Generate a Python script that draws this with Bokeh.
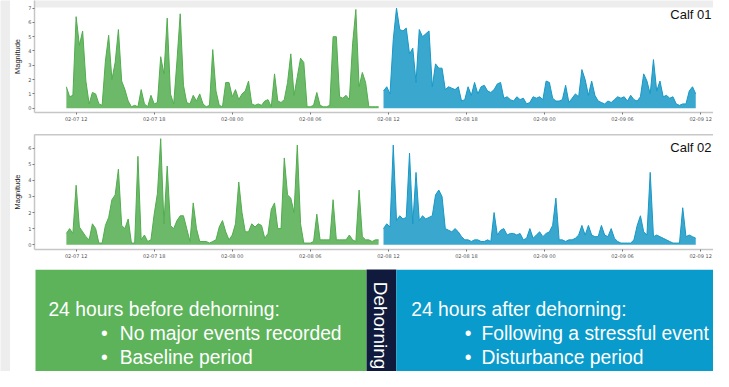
import math
from bokeh.plotting import figure
from bokeh.models import Range1d, FixedTicker, LinearAxis, Label
from bokeh.layouts import column, row
from bokeh.embed import file_html
from bokeh.resources import INLINE
from bokeh.core.properties import value

# ---------------- data ----------------
TICK_HOURS = [12, 18, 24, 30, 36, 42, 48, 54, 60]          # hours since 02-07 00:00
TICK_LABELS = ["02-07 12", "02-07 18", "02-08 00", "02-08 06", "02-08 12",
               "02-08 18", "02-09 00", "02-09 06", "02-09 12"]
BIN_HOURS = 0.25          # 15-minute bins
BEFORE_START = 11.25      # first bin centre, hours
AFTER_START = 35.625

CALF01_BEFORE = [1.5, 0.8, 0.9, 6.4, 4.4, 5.4, 1.9, 0.3, 1.1, 1.0,
                 0.3, 0.2, 3.3, 5.1, 2.0, 3.2, 5.5, 1.9, 1.3, 0.5,
                 0.1, 0.2, 0.1, 1.3, 0.3, 0.1, 0.9, 0.3, 0.4, 3.6,
                 2.4, 6.3, 1.0, 0.3, 3.3, 6.6, 1.6, 0.4, 0.3, 0.9,
                 0.5, 1.0, 0.3, 0.1, 0.2, 4.1, 1.2, 0.2, 0.1, 1.8,
                 1.8, 0.8, 1.3, 0.6, 1.0, 1.2, 1.9, 0.3, 0.2, 0.3,
                 0.2, 0.5, 0.6, 0.1, 2.4, 0.5, 0.4, 0.6, 1.8, 3.8,
                 0.9, 2.2, 3.5, 3.2, 0.1, 0.1, 0.2, 1.1, 0.2, 0.1,
                 0.1, 0.2, 5.0, 5.0, 0.8, 0.7, 0.9, 0.6, 4.5, 6.9,
                 1.5, 2.5, 1.8, 0.1, 0.1, 0.1, 0.1]
CALF01_AFTER = [1.2, 1.5, 1.0, 4.8, 7.0, 5.5, 5.4, 5.6, 3.8, 4.2,
                1.8, 5.5, 5.0, 5.2, 5.4, 1.5, 3.1, 2.8, 2.8, 1.3,
                1.5, 1.4, 1.3, 1.5, 0.5, 0.6, 1.5, 0.9, 1.8, 1.0,
                1.5, 1.6, 1.2, 1.1, 1.3, 1.7, 1.8, 0.7, 0.8, 0.6,
                0.5, 0.8, 0.6, 0.7, 0.3, 0.4, 0.8, 0.7, 0.8, 0.6,
                1.9, 1.8, 0.7, 0.5, 0.5, 0.6, 1.6, 0.4, 0.7, 1.0,
                0.8, 2.7, 2.0, 0.9, 1.9, 0.9, 0.5, 0.4, 0.3, 0.5,
                0.4, 0.6, 0.8, 0.7, 0.8, 0.5, 0.9, 0.6, 0.5, 0.8,
                2.4, 1.9, 1.0, 3.4, 1.2, 1.9, 0.8, 0.9, 0.7, 0.8,
                0.3, 0.2, 0.3, 0.3, 1.2, 1.5, 1.0]
CALF02_BEFORE = [0.7, 1.0, 0.7, 3.7, 1.1, 0.8, 0.5, 0.3, 1.3, 1.0,
                 0.1, 0.1, 1.2, 1.7, 2.8, 3.1, 4.7, 1.2, 1.0, 1.6,
                 0.1, 0.1, 5.5, 0.3, 0.6, 0.2, 0.3, 1.9, 3.2, 6.6,
                 1.3, 4.9, 1.2, 1.0, 1.5, 1.8, 1.8, 1.0, 0.2, 2.6,
                 1.0, 0.2, 0.2, 0.2, 0.1, 0.2, 0.3, 1.1, 1.5, 0.8,
                 0.3, 0.6, 1.3, 3.9, 2.0, 0.8, 0.8, 1.3, 1.1, 1.3,
                 1.2, 0.4, 0.7, 2.2, 2.6, 1.0, 1.0, 5.4, 3.1, 2.9,
                 2.0, 6.2, 1.3, 0.1, 0.1, 0.1, 0.2, 1.9, 0.3, 0.3,
                 0.3, 0.3, 2.8, 0.3, 0.3, 0.3, 0.3, 0.6, 0.3, 0.2,
                 3.4, 0.5, 0.3, 0.3, 0.2, 0.3, 0.3]
CALF02_AFTER = [1.0, 1.3, 1.1, 6.2, 1.5, 1.8, 1.6, 1.7, 5.7, 1.3,
                4.5, 1.5, 1.8, 1.6, 1.7, 1.8, 3.1, 3.4, 3.0, 1.0,
                0.9, 0.8, 1.0, 0.8, 0.5, 0.3, 0.3, 0.2, 0.3, 0.3,
                0.2, 0.2, 0.3, 0.2, 2.0, 0.6, 0.9, 1.0, 0.6, 0.7,
                0.7, 0.6, 0.7, 0.3, 0.4, 1.0, 0.4, 0.6, 0.8, 0.5,
                0.7, 0.8, 1.2, 2.9, 0.3, 0.3, 0.2, 0.3, 0.3, 0.4,
                0.6, 1.2, 0.6, 1.2, 0.6, 0.5, 0.5, 1.2, 0.6, 0.5,
                1.0, 0.4, 0.2, 0.1, 0.1, 0.1, 0.1, 0.3, 1.2, 1.8,
                0.8, 0.6, 4.5, 0.5, 0.6, 0.5, 0.4, 0.3, 0.2, 0.1,
                0.1, 0.1, 2.3, 0.5, 0.6, 0.5, 0.4]

PANEL_TITLES = ["Calf 01", "Calf 02"]
BEFORE_TITLE = "24 hours before dehorning:"
BEFORE_BULLETS = ["No major events recorded", "Baseline period"]
AFTER_TITLE = "24 hours after dehorning:"
AFTER_BULLETS = ["Following a stressful event", "Disturbance period"]
MIDDLE_TEXT = "Dehorning"

# ---------------- style ----------------
GREEN = "#52ad4f"
BLUE = "#1898c6"
BOX_GREEN = "#5cb35a"
BOX_NAVY = "#0f1a3c"
BOX_BLUE = "#089bcb"
BG_GREY = "#eeeded"
FONT = "Liberation Sans"
X_START, X_END = 8.8, 60.99
LEFT_BORDER = 18


def make_panel(before, after, y_top, y_max, y_ticks, title, title_y, height,
               bottom_border, top_line, grey_top):
    p = figure(width=703, height=height, output_backend="svg", toolbar_location=None,
               x_range=Range1d(X_START, X_END), y_range=Range1d(-0.3, y_max),
               min_border_left=LEFT_BORDER, min_border_right=0, min_border_top=0,
               min_border_bottom=bottom_border,
               background_fill_color="white", border_fill_color="white")
    p.outline_line_color = None
    p.grid.visible = False
    xb = [BEFORE_START + BIN_HOURS * i for i in range(len(before))]
    xa = [AFTER_START + BIN_HOURS * i for i in range(len(after))]
    p.varea(x=xb, y1=[0] * len(before), y2=before, fill_color=GREEN, fill_alpha=0.85)
    p.line(x=xb, y=before, line_color=GREEN, line_width=1)
    p.varea(x=xa, y1=[0] * len(after), y2=after, fill_color=BLUE, fill_alpha=0.85)
    p.line(x=xa, y=after, line_color=BLUE, line_width=1)
    if grey_top:
        # slide background above the chart area
        p.quad(left=[X_START - 1], right=[X_END + 1], bottom=[y_top], top=[y_max + 1],
               fill_color=BG_GREY, line_color=None)

    p.xaxis.ticker = FixedTicker(ticks=TICK_HOURS)
    p.xaxis.major_label_overrides = {h: lab for h, lab in zip(TICK_HOURS, TICK_LABELS)}
    p.yaxis.ticker = FixedTicker(ticks=y_ticks)
    p.axis.axis_line_color = "#c6c6c6"
    p.axis.axis_line_width = 1.5
    p.axis.major_tick_line_color = "#777777"
    p.axis.major_tick_out = 2
    p.axis.major_tick_in = 0
    p.axis.minor_tick_line_color = None
    p.axis.major_label_text_font_size = "5px"
    p.axis.major_label_text_color = "#555555"
    p.axis.major_label_text_font = "DejaVu Sans"
    p.axis.major_label_standoff = 1
    p.yaxis.axis_label = "Magnitude"
    p.yaxis.axis_label_text_font_size = "7.5px"
    p.yaxis.axis_label_text_font_style = "normal"
    p.yaxis.axis_label_text_font = FONT
    p.yaxis.axis_label_text_color = "#222222"
    p.yaxis.axis_label_standoff = 3

    if top_line:
        top = LinearAxis(ticker=FixedTicker(ticks=[]), axis_line_color="#c8c8c8",
                         axis_line_width=2, major_tick_line_color=None,
                         minor_tick_line_color=None, major_tick_out=0,
                         major_label_standoff=0, major_label_text_font_size="0px")
        p.add_layout(top, "above")

    p.add_layout(Label(x=60.84, y=title_y, text=title, text_font=FONT,
                       text_font_size="13px", text_color="#111111",
                       text_baseline="middle", text_align="right"))
    return p


def grey_block(width, height):
    g = figure(width=width, height=height, output_backend="svg", toolbar_location=None,
               min_border=0, background_fill_color=BG_GREY, border_fill_color=BG_GREY,
               x_range=Range1d(0, 1), y_range=Range1d(0, 1))
    g.axis.visible = False
    g.grid.visible = False
    g.outline_line_color = None
    return g


# panel 1 frame reaches 7 px higher: a grey band of 7/14.3 data units on top
p1 = make_panel(CALF01_BEFORE, CALF01_AFTER, 7.04, 7.53, list(range(0, 8)),
                PANEL_TITLES[0], 6.55, 134, 22, False, True)
p2 = make_panel(CALF02_BEFORE, CALF02_AFTER, 6.86, 6.86, list(range(0, 7)),
                PANEL_TITLES[1], 6.04, 135, 20, True, False)

# ---------------- bottom banner ----------------
p3 = figure(width=703, height=102, output_backend="svg", toolbar_location=None,
            x_range=Range1d(LEFT_BORDER, 703), y_range=Range1d(0, 102),
            min_border_left=LEFT_BORDER, min_border_right=0, min_border_top=0,
            min_border_bottom=0, background_fill_color="white",
            border_fill_color="white")
p3.axis.visible = False
p3.grid.visible = False
p3.outline_line_color = None
p3.quad(left=[19], right=[353], bottom=[0], top=[102], fill_color=BOX_GREEN, line_color=None)
p3.quad(left=[353], right=[383], bottom=[0], top=[103], fill_color=BOX_NAVY, line_color=None)
p3.quad(left=[383], right=[711], bottom=[0], top=[102], fill_color=BOX_BLUE, line_color=None)

TXT = dict(text_color="white", text_font=value(FONT), text_font_size="19.3px",
           text_baseline="alphabetic", text_align="left")
p3.text(x=[32], y=[62], text=[BEFORE_TITLE], **TXT)
p3.text(x=[85, 85], y=[38, 14], text=["\u2022", "\u2022"], **TXT)
p3.text(x=[104, 104], y=[38, 14], text=BEFORE_BULLETS, **TXT)
p3.text(x=[398], y=[62], text=[AFTER_TITLE], **TXT)
p3.text(x=[452, 452], y=[38, 14], text=["\u2022", "\u2022"], **TXT)
p3.text(x=[469, 469], y=[38, 14], text=AFTER_BULLETS, **TXT)
p3.text(x=[367], y=[46], text=[MIDDLE_TEXT], angle=-math.pi / 2,
        text_color="white", text_font=value(FONT), text_font_size="19px",
        text_baseline="middle", text_align="center")

left_strip = grey_block(10, 371)
layout = row(left_strip, column(p1, p2, p3))

open("out.html", "w").write(file_html(layout, INLINE))
